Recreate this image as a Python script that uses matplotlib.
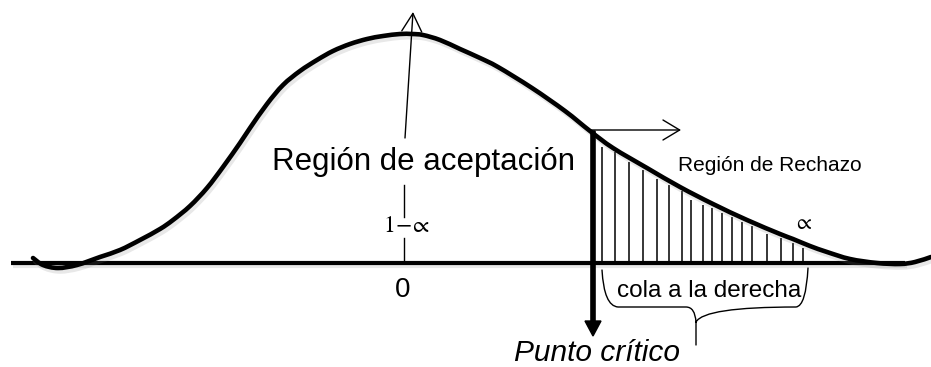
import matplotlib
matplotlib.use("Agg")
import matplotlib.pyplot as plt
import matplotlib.patheffects as pe
from matplotlib.path import Path
from matplotlib.patches import PathPatch

plt.rcParams["mathtext.fontset"] = "stix"

# ---- data (pixel units of the 931x367 canvas) ----
curve_x = [33, 43, 58, 77, 100, 120, 140, 160, 173, 190, 207, 223, 240, 250, 267,
           283, 300, 317, 333, 350, 367, 383, 400, 412, 423, 440, 460, 480, 498,
           532, 565, 590, 613, 647, 680, 713, 747, 780, 793, 810, 827, 850, 877,
           900, 915, 931]
curve_y = [258, 265, 268, 265, 257, 250, 240, 229, 220, 206, 188, 167, 143, 128, 104,
           85, 71, 60, 51, 44, 39, 36, 34, 34, 35, 40, 49, 58, 67,
           88, 111, 131, 148, 168, 187, 204, 220, 234, 239, 246, 252, 259, 263,
           264, 262, 257]

axis_x = [11, 905]
axis_y = 263
mean_x = 404
critical_x = 593
critical_top = 131

hatch_x = [602, 615, 629, 643, 657, 669, 682, 691, 703, 712, 722, 732, 742, 752,
           767, 781, 793, 803]
hatch_top = [147, 152, 162, 170, 179, 185, 191, 200, 205, 208, 213, 217, 222, 226,
             234, 238, 243, 248]

label_accept = "Región de aceptación"
label_reject = "Región de Rechazo"
label_tail = "cola a la derecha"
label_critical = "Punto crítico"
label_zero = "0"
label_conf = r"$1\!-\!\!\propto$"
label_alpha = r"$\propto$"

# ---- figure ----
fig = plt.figure(figsize=(9.31, 3.67), dpi=100)
ax = fig.add_axes([0, 0, 1, 1])
ax.set_xlim(0, 931)
ax.set_ylim(367, 0)
ax.axis("off")

shadow = [pe.SimpleLineShadow(offset=(1.5, -2.5), shadow_color="0.5", alpha=0.18),
          pe.Normal()]


def smooth_path(xs, ys):
    """Catmull-Rom curve through the given points, drawn as cubic Beziers."""
    pts = list(zip(xs, ys))
    n = len(pts)
    verts = [pts[0]]
    codes = [Path.MOVETO]
    for i in range(n - 1):
        p0 = pts[i - 1] if i > 0 else pts[i]
        p1 = pts[i]
        p2 = pts[i + 1]
        p3 = pts[i + 2] if i + 2 < n else pts[i + 1]
        c1 = (p1[0] + (p2[0] - p0[0]) / 6.0, p1[1] + (p2[1] - p0[1]) / 6.0)
        c2 = (p2[0] - (p3[0] - p1[0]) / 6.0, p2[1] - (p3[1] - p1[1]) / 6.0)
        verts += [c1, c2, p2]
        codes += [Path.CURVE4] * 3
    return Path(verts, codes)


# baseline
ax.plot(axis_x, [axis_y, axis_y], color="black", lw=3.0,
        solid_capstyle="butt", path_effects=shadow, zorder=3)

# bell curve
ax.add_patch(PathPatch(smooth_path(curve_x, curve_y), fill=False, lw=3.3,
                       ec="black", capstyle="round", joinstyle="round",
                       path_effects=shadow, zorder=4))

# hatch lines in the rejection region
ax.vlines(hatch_x, axis_y + 1, hatch_top, color="black", lw=1.1, zorder=2)

# critical point arrow (thick, downward)
ax.arrow(critical_x, critical_top, 0, 336 - critical_top, width=4.2,
         head_width=16, head_length=15, length_includes_head=True,
         fc="black", ec="black", zorder=5)

# horizontal arrow to the right
ax.annotate("", xy=(681, 130), xytext=(critical_x - 2, 130),
            arrowprops=dict(arrowstyle="->,head_length=0.6,head_width=0.36",
                            lw=1.0, color="black", mutation_scale=20,
                            shrinkA=0, shrinkB=0), zorder=5)

# acceptance arrow (up towards peak)
ax.annotate("", xy=(413, 12), xytext=(405, 138),
            arrowprops=dict(arrowstyle="->,head_length=0.65,head_width=0.36",
                            lw=1.0, color="black", mutation_scale=20,
                            shrinkA=0, shrinkB=0), zorder=5)

# small marker segments above 0
ax.plot([mean_x, mean_x], [185, 217], color="black", lw=1.0)
ax.plot([mean_x, mean_x], [238, axis_y], color="black", lw=1.0)

# brace under the tail
verts = [(602, 270), (604, 306), (618, 307),
         (686, 307),
         (695, 307), (696, 322),
         (696, 345),
         (696, 322), (704, 307),
         (796, 307),
         (806, 306), (808, 268)]
codes = [Path.MOVETO, Path.CURVE3, Path.CURVE3,
         Path.LINETO,
         Path.CURVE3, Path.CURVE3,
         Path.LINETO,
         Path.MOVETO, Path.CURVE3,
         Path.LINETO,
         Path.CURVE3, Path.CURVE3]
ax.add_patch(PathPatch(Path(verts, codes), fill=False, lw=1.0,
                       ec="black", capstyle="round"))

# texts
sans = ["Liberation Sans", "DejaVu Sans"]
ax.text(272, 170, label_accept, fontsize=22.5, family=sans,
        ha="left", va="baseline")
ax.text(678, 171, label_reject, fontsize=15, family=sans,
        ha="left", va="baseline")
ax.text(617, 297, label_tail, fontsize=17.5, family=sans,
        ha="left", va="baseline")
ax.text(514, 361, label_critical, fontsize=21.5, family=sans, style="italic",
        ha="left", va="baseline")
ax.text(403, 297, label_zero, fontsize=20, family=sans,
        ha="center", va="baseline")
ax.text(406, 232, label_conf, fontsize=17,
        ha="center", va="baseline")
ax.text(802, 229, label_alpha, fontsize=15.5,
        ha="center", va="baseline")

fig.savefig("out.png", dpi=100)
